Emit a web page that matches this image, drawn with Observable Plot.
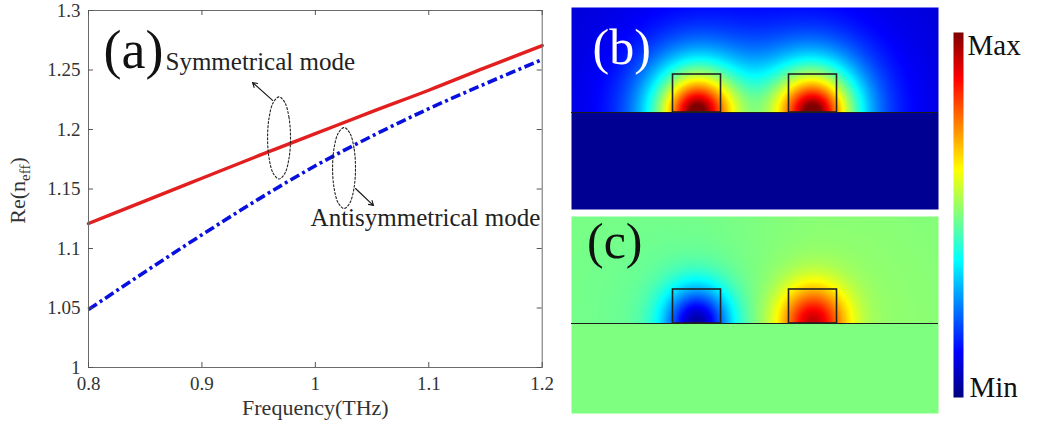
<!DOCTYPE html>
<html><head><meta charset="utf-8">
<script src="https://cdn.jsdelivr.net/npm/d3@7"></script>
<script src="https://cdn.jsdelivr.net/npm/@observablehq/plot@0.6"></script>
<style>
body{margin:0;background:#fff;}
#wrap{position:relative;width:1038px;height:428px;overflow:hidden;font-family:"Liberation Serif",serif;background:#fff;}
#wrap svg{position:absolute;background:transparent;overflow:visible;}
</style></head><body><div id="wrap"></div>
<script>
// ---- panel (a) data ----
const freq = [0.8, 0.85, 0.9, 0.95, 1.0, 1.05, 1.1, 1.15, 1.2];
const symmetricMode = [1.121, 1.140, 1.159, 1.178, 1.1965, 1.215, 1.233, 1.252, 1.2705];
const antisymmetricMode = [1.0487, 1.0805, 1.1115, 1.1415, 1.1695, 1.1945, 1.2175, 1.2385, 1.2588];
const xTicks = [0.8, 0.9, 1, 1.1, 1.2];
const xTickLabels = ["0.8", "0.9", "1", "1.1", "1.2"];
const yTicks = [1, 1.05, 1.1, 1.15, 1.2, 1.25, 1.3];
const yTickLabels = ["1", "1.05", "1.1", "1.15", "1.2", "1.25", "1.3"];
const xLabel = "Frequency(THz)";
const annotTexts = ["(a)", "Symmetrical mode", "Antisymmetrical mode"];
const annotX = [0.8132, 0.8679, 0.9958];
const annotY = [1.2513, 1.2496, 1.1193];
const ellipseCx = [0.968, 1.0253];
const ellipseCy = [1.1929, 1.1676];
const ellipseRx = [0.0101, 0.0101];
const ellipseRy = [0.0345, 0.034];
const arrowFrom = [[0.9623, 1.2244], [1.0354, 1.1504]];
const arrowTo = [[0.9446, 1.2395], [1.0513, 1.1361]];

// ---- panels (b),(c) field maps ----
const panelLabels = ["(b)", "(c)"];
const guideX = [[-82, -34], [34, 82]];
const guideH = [38, 34];
const colorbarLabels = ["Max", "Min"];
const jet = ["#00007f","#0000ff","#007fff","#00ffff","#7fff7f","#ffff00","#ff7f00","#ff0000","#7f0000"];

const rows = freq.map((f, i) => ({f, sym: symmetricMode[i], anti: antisymmetricMode[i]}));
const ellPts = [];
ellipseCx.forEach((cx, k) => {
  for (let j = 0; j < 12; j++) {
    const a = j / 12 * 2 * Math.PI;
    ellPts.push({id: k, x: cx + ellipseRx[k] * Math.cos(a), y: ellipseCy[k] + ellipseRy[k] * Math.sin(a)});
  }
});
const arrows = arrowFrom.map((p, i) => ({x1: p[0], y1: p[1], x2: arrowTo[i][0], y2: arrowTo[i][1]}));

const FONT = "'Liberation Serif', 'Times New Roman', serif";
const W = 560, H = 428, mL = 88, mR = 18.3, mT = 10, mB = 61;
const fw = W - mL - mR, fh = H - mT - mB, tk = 5;

const plotA = Plot.plot({
  width: W, height: H, marginLeft: mL, marginRight: mR, marginTop: mT, marginBottom: mB,
  style: {fontFamily: FONT, fontSize: "19px", background: "transparent", overflow: "visible"},
  x: {domain: [0.8, 1.2], label: null},
  y: {domain: [1, 1.3], label: null},
  marks: [
    Plot.line(rows, {x: "f", y: "anti", stroke: "#0810e0", strokeWidth: 3.6, strokeDasharray: "10,3.5,3,3.5", strokeLinecap: "butt", curve: "monotone-x"}),
    Plot.line(rows, {x: "f", y: "sym", stroke: "#e31e1e", strokeWidth: 3.4, curve: "monotone-x"}),
    Plot.frame({stroke: "#6a6a6a", strokeWidth: 1}),
    Plot.tickX(xTicks, {x: d => d, insetTop: fh - tk, stroke: "#555"}),
    Plot.tickX(xTicks, {x: d => d, insetBottom: fh - tk, stroke: "#555"}),
    Plot.tickY(yTicks, {y: d => d, insetRight: fw - tk, stroke: "#555"}),
    Plot.tickY(yTicks, {y: d => d, insetLeft: fw - tk, stroke: "#555"}),
    Plot.axisX(xTicks, {anchor: "bottom", tickSize: 0, tickPadding: 9, tickFormat: d => xTickLabels[xTicks.indexOf(d)], fill: "#333", label: null}),
    Plot.axisY(yTicks, {anchor: "left", tickSize: 0, tickPadding: 8, tickFormat: d => yTickLabels[yTicks.indexOf(d)], fill: "#333", label: null}),
    Plot.text([xLabel], {frameAnchor: "bottom", dy: 47, text: d => d, fontSize: 22, fill: "#333"}),
    Plot.line(ellPts, {x: "x", y: "y", z: "id", curve: "catmull-rom-closed", stroke: "#222", strokeWidth: 1.1, strokeDasharray: "2,2"}),
    Plot.arrow(arrows, {x1: "x1", y1: "y1", x2: "x2", y2: "y2", stroke: "#111", strokeWidth: 1.1, headLength: 7}),
    Plot.text([0], {x: annotX[0], y: annotY[0], text: () => annotTexts[0], fontSize: 54, textAnchor: "start", lineAnchor: "bottom", fill: "#111"}),
    Plot.text([1, 2], {x: i => annotX[i], y: i => annotY[i], text: i => annotTexts[i], fontSize: 25, textAnchor: "start", lineAnchor: "bottom", fill: "#222"})
  ]
});
plotA.style.left = "0px"; plotA.style.top = "0px";
{
  const t = d3.select(plotA).append("text")
    .attr("transform", `translate(25,${mT + fh / 2 + 2}) rotate(-90)`)
    .attr("text-anchor", "middle").attr("font-size", 22).attr("fill", "#333").attr("font-family", FONT);
  t.append("tspan").text("Re(n");
  t.append("tspan").attr("font-size", 15).attr("dy", 5).text("eff");
  t.append("tspan").attr("dy", -5).text(")");
}

const colorOpt = {type: "linear", domain: [0, 1], interpolate: d3.piecewise(d3.interpolateRgb, jet), clamp: true};

const centers = guideX.map(g => (g[0] + g[1]) / 2);
function fieldSym(x, y) {
  if (y < 0) return 0.02;
  let v = 0.08;
  for (const cx of centers) {
    const r = Math.hypot(x - cx, 0.95 * y);
    v += 0.85 * Math.exp(-Math.pow(r / 42, 1.5)) + 0.12 * Math.exp(-r / 60);
  }
  return v;
}
function halo(r) { return 0.85 * Math.exp(-((r / 33) ** 2)) + 0.15 * Math.exp(-r / 70); }
function fieldAnti(x, y) {
  if (y < 0) return 0.5;
  const r0 = Math.hypot(x - centers[0], 0.9 * y), r1 = Math.hypot(x - centers[1], 0.9 * y);
  return 0.5 + 0.45 * halo(r1) - 0.48 * halo(r0);
}

function fieldPanel(fill, yTop, yBot, gh, label, labelColor, lx, ly, fs) {
  const guides = guideX.map(g => ({x1: g[0], x2: g[1], y1: 0, y2: gh}));
  return Plot.plot({
    width: 367, height: yTop + yBot, margin: 0,
    style: {fontFamily: FONT, background: "transparent", overflow: "visible"},
    x: {domain: [-183.5, 183.5], axis: null},
    y: {domain: [-yBot, yTop], axis: null},
    color: colorOpt,
    marks: [
      Plot.raster({fill, x1: -183.5, x2: 183.5, y1: -yBot, y2: yTop, pixelSize: 1, imageRendering: "auto"}),
      Plot.ruleY([0], {stroke: "#1a1a1a", strokeWidth: 1.2}),
      Plot.rect(guides, {x1: "x1", x2: "x2", y1: "y1", y2: "y2", fill: "none", stroke: "#222", strokeWidth: 1.6}),
      Plot.text([label], {x: lx, y: ly, text: d => d, fontSize: fs, textAnchor: "start", lineAnchor: "bottom", fill: labelColor})
    ]
  });
}
const plotB = fieldPanel(fieldSym, 105, 97, guideH[0], panelLabels[0], "#ffffff", -162.5, 49, 50);
plotB.style.left = "571px"; plotB.style.top = "7px";
const plotC = fieldPanel(fieldAnti, 107, 90, guideH[1], panelLabels[1], "#111", -168, 66, 50);
plotC.style.left = "571px"; plotC.style.top = "216px";

const plotBar = Plot.plot({
  width: 98, height: 428, marginLeft: 13, marginRight: 75, marginTop: 32, marginBottom: 31,
  style: {fontFamily: FONT, background: "transparent", overflow: "visible"},
  x: {domain: [0, 1], axis: null},
  y: {domain: [0, 1], axis: null},
  color: colorOpt,
  marks: [
    Plot.raster({fill: (x, y) => y, x1: 0, x2: 1, y1: 0, y2: 1, pixelSize: 1}),
    Plot.text([colorbarLabels[0]], {x: 1, y: 1, dx: 4, dy: 2, text: d => d, fontSize: 29, textAnchor: "start", lineAnchor: "top", fill: "#111"}),
    Plot.text([colorbarLabels[1]], {x: 1, y: 0, dx: 6, dy: -1, text: d => d, fontSize: 29, textAnchor: "start", lineAnchor: "bottom", fill: "#111"})
  ]
});
plotBar.style.left = "940px"; plotBar.style.top = "0px";

const wrap = document.getElementById("wrap");
[plotA, plotB, plotC, plotBar].forEach(p => wrap.appendChild(p));
</script></body></html>
